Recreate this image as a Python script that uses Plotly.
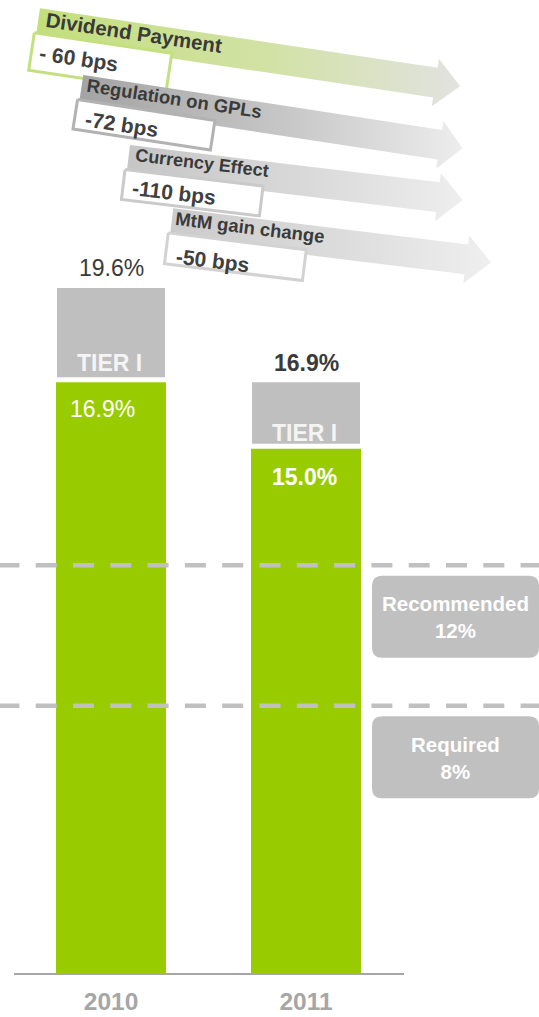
import math
import plotly.graph_objects as go

# ---- data -------------------------------------------------------------
years = ["2010", "2011"]
tier1_ratio = [16.9, 15.0]        # green segment (%)
total_ratio = [19.6, 16.9]        # top of the grey TIER I cap (%)

threshold_names = ["Recommended", "Required"]
threshold_values = [12, 8]        # (%)

driver_names = ["Dividend Payment", "Regulation on GPLs", "Currency Effect", "MtM gain change"]
driver_labels = ["- 60 bps", "-72 bps", "-110 bps", "-50 bps"]

# ---- styling / layout constants ---------------------------------------
W, H = 539, 1017
FONT = "Liberation Sans, Arial, sans-serif"
GREEN = "#99cc00"
GREY = "#bfbfbf"
DARK = "#3a3a3a"

PX_PER_PCT = 34.95                 # vertical scale of the bar axis
BASE_PX = 973                      # pixel row of the bar baseline
X_LEFT, X_RIGHT = 13.5, 403.5      # horizontal extent of the bar axis
GAP = 5 / PX_PER_PCT               # white gap between green and grey

# threshold axis (separate scale for the dashed guide lines)
THR_ZERO_PX, THR_PX_PER_PCT = 987, 35.15

# arrow geometry: origin (top-left of band), angle (deg), shaft end, tip
arrow_geom = [
    dict(ox=40.0, oy=8.3, ang=8.5, base=402, tip=427),
    dict(ox=83.3, oy=75.0, ang=8.7, base=363, tip=386),
    dict(ox=130.0, oy=145.0, ang=6.85, base=312, tip=337),
    dict(ox=173.3, oy=208.3, ang=7.0, base=297, tip=322),
]
arrow_colors = [
    ["#c3df7c", "#d2e2a6", "#e2e2e0"],
    ["#a4a4a4", "#c8c8c8", "#ededed"],
    ["#c6c6c6", "#dadada", "#eeeeee"],
    ["#cbcbcb", "#dddddd", "#efefef"],
]
box_border = ["#c4e07e", "#b2b2b2", "#cacaca", "#d2d2d2"]
box_bottom = [63, 55, 55, 56]
title_uv = [(96.6, 10.5), (93.5, 9.2), (73.4, 9.4), (78.4, 9.3)]
label_uv = [(46.0, 44.3), (46.2, 43.1), (49.4, 42.2), (45.7, 46.7)]
title_size = [20.5, 18.5, 18, 18.5]
BAND, OVERHANG = 30, 9


def rot(g, u, v):
    a = math.radians(g["ang"])
    return (g["ox"] + u * math.cos(a) - v * math.sin(a),
            g["oy"] + u * math.sin(a) + v * math.cos(a))


fig = go.Figure()

# ---- bars ------------------------------------------------------------
fig.add_trace(go.Bar(
    x=years, y=tier1_ratio, width=0.564, marker=dict(color=GREEN, line=dict(width=0)),
    hoverinfo="skip", showlegend=False))
fig.add_trace(go.Bar(
    x=years, y=[t - g - GAP for t, g in zip(total_ratio, tier1_ratio)],
    base=[g + GAP for g in tier1_ratio], width=0.554,
    marker=dict(color=GREY, line=dict(width=0)), hoverinfo="skip", showlegend=False))

annotations = []
top_weight = ["normal", "bold"]
tier_shift = [14, 10.6]
in_shift = [(-9, -27), (-2, -28)]
for i, yr in enumerate(years):
    # category axis positions are addressed by index
    annotations.append(dict(
        x=i, y=total_ratio[i], xref="x", yref="y", text=f"{total_ratio[i]:.1f}%",
        showarrow=False, xanchor="center", yanchor="middle", yshift=19.5,
        font=dict(family=FONT, size=23, color=DARK, weight=top_weight[i])))
    annotations.append(dict(
        x=i, y=tier1_ratio[i] + GAP, xref="x", yref="y", text="TIER I",
        showarrow=False, xanchor="center", yanchor="middle", yshift=tier_shift[i], xshift=-2,
        font=dict(family=FONT, size=23, color="#f4f4f4", weight="bold")))
    annotations.append(dict(
        x=i, y=tier1_ratio[i], xref="x", yref="y", text=f"{tier1_ratio[i]:.1f}%",
        showarrow=False, xanchor="center", yanchor="middle",
        xshift=in_shift[i][0], yshift=in_shift[i][1],
        font=dict(family=FONT, size=23, color="#ffffff", weight=top_weight[i])))

# ---- thresholds -------------------------------------------------------
shapes = []
BOX_X0 = 372
for name, val in zip(threshold_names, threshold_values):
    shapes.append(dict(
        type="line", xref="paper", yref="y2", x0=-1.6 / W, x1=1.0, y0=val, y1=val,
        line=dict(color="#c0c0c0", width=4.5, dash="21px,16.3px"), layer="above"))
    x0, x1, yt, yb, r = 0, W - BOX_X0, -10.5, -92.5, 10
    path = (f"M {x0 + r},{yt} L {x1 - r},{yt} Q {x1},{yt} {x1},{yt - r} "
            f"L {x1},{yb + r} Q {x1},{yb} {x1 - r},{yb} L {x0 + r},{yb} "
            f"Q {x0},{yb} {x0},{yb + r} L {x0},{yt - r} Q {x0},{yt} {x0 + r},{yt} Z")
    shapes.append(dict(
        type="path", path=path, xref="paper", yref="y2", xsizemode="pixel",
        ysizemode="pixel", xanchor=BOX_X0 / W, yanchor=val,
        fillcolor="#c0c0c0", line=dict(width=0), layer="above"))
    annotations.append(dict(
        x=(BOX_X0 + W) / 2 / W, y=val, xref="paper", yref="y2",
        text=f"{name}<br>{val}%", showarrow=False, xanchor="center",
        yanchor="middle", yshift=-52, align="center",
        font=dict(family=FONT, size=20.5, color="#ffffff", weight="bold")))

# ---- driver arrows ----------------------------------------------------
for i, g in enumerate(arrow_geom):
    pts = [(0, 0), (g["base"], 0), (g["base"], -OVERHANG), (g["tip"], BAND / 2),
           (g["base"], BAND + OVERHANG), (g["base"], BAND), (0, BAND), (0, 0)]
    xy = [rot(g, u, v) for u, v in pts]
    c = arrow_colors[i]
    fig.add_trace(go.Scatter(
        x=[p[0] for p in xy], y=[p[1] for p in xy], xaxis="x3", yaxis="y3",
        mode="lines", line=dict(width=0), fill="toself",
        fillgradient=dict(type="horizontal", colorscale=[[0, c[0]], [0.55, c[1]], [1, c[2]]],
                          start=g["ox"], stop=rot(g, g["tip"], BAND / 2)[0]),
        hoverinfo="skip", showlegend=False))
    bpts = [(-2, 25), (137, 25), (137, box_bottom[i]), (-2, box_bottom[i]), (-2, 25)]
    bxy = [rot(g, u, v) for u, v in bpts]
    fig.add_trace(go.Scatter(
        x=[p[0] for p in bxy], y=[p[1] for p in bxy], xaxis="x3", yaxis="y3",
        mode="lines", line=dict(width=3, color=box_border[i]), fill="toself",
        fillcolor="#ffffff", hoverinfo="skip", showlegend=False))
    tx, ty = rot(g, *title_uv[i])
    annotations.append(dict(
        x=tx, y=ty, xref="x3", yref="y3", text=driver_names[i], showarrow=False,
        textangle=g["ang"], xanchor="center", yanchor="middle",
        font=dict(family=FONT, size=title_size[i], color=DARK, weight="bold")))
    lx, ly = rot(g, *label_uv[i])
    annotations.append(dict(
        x=lx, y=ly, xref="x3", yref="y3", text=driver_labels[i], showarrow=False,
        textangle=g["ang"], xanchor="center", yanchor="middle",
        font=dict(family=FONT, size=21, color="#404040", weight="bold")))

fig.update_layout(
    width=W, height=H, autosize=False,
    margin=dict(l=0, r=0, t=0, b=0, pad=0),
    paper_bgcolor="#ffffff", plot_bgcolor="rgba(0,0,0,0)",
    barmode="overlay", showlegend=False,
    font=dict(family=FONT),
    xaxis=dict(domain=[X_LEFT / W, X_RIGHT / W], range=[-0.5, 1.5], type="category",
               showline=True, linecolor="#a6a6a6", linewidth=2, showgrid=False,
               zeroline=False, ticks="", ticklabelstandoff=6, automargin=False,
               tickfont=dict(family=FONT, size=24.5, color="#a6a6a6", weight="bold")),
    yaxis=dict(domain=[(H - BASE_PX) / H, 1], range=[0, BASE_PX / PX_PER_PCT],
               visible=False, automargin=False),
    yaxis2=dict(overlaying="y", visible=False,
                range=[(THR_ZERO_PX - BASE_PX) / THR_PX_PER_PCT, THR_ZERO_PX / THR_PX_PER_PCT]),
    xaxis3=dict(domain=[0, 1], range=[0, W], anchor="y3", visible=False),
    yaxis3=dict(domain=[0, 1], range=[H, 0], anchor="x3", visible=False),
    shapes=shapes,
    annotations=annotations,
)

fig.write_html("out.html")
